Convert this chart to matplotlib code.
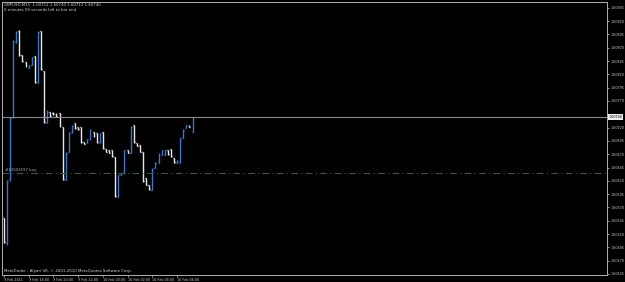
import numpy as np
import matplotlib.pyplot as plt

# GBPUSD M15 bars (open, high, low, close)
opens = [1.60550, 1.60503, 1.60623, 1.60740, 1.60881, 1.60902, 1.60857, 1.60843, 1.60832, 1.60838,
         1.60855, 1.60804, 1.60902, 1.60827, 1.60729, 1.60749, 1.60748, 1.60748, 1.60748, 1.60721,
         1.60622, 1.60674, 1.60712, 1.60729, 1.60721, 1.60721, 1.60693, 1.60691, 1.60697, 1.60712,
         1.60710, 1.60691, 1.60712, 1.60680, 1.60678, 1.60678, 1.60665, 1.60590, 1.60631, 1.60633,
         1.60678, 1.60672, 1.60725, 1.60691, 1.60687, 1.60674, 1.60625, 1.60612, 1.60603, 1.60644,
         1.60654, 1.60669, 1.60669, 1.60678, 1.60680, 1.60663, 1.60654, 1.60654, 1.60701, 1.60719,
         1.60725, 1.60712]
highs = [1.60550, 1.60622, 1.60740, 1.60885, 1.60902, 1.60903, 1.60857, 1.60843, 1.60838, 1.60853,
         1.60855, 1.60902, 1.60902, 1.60827, 1.60753, 1.60749, 1.60749, 1.60748, 1.60748, 1.60721,
         1.60674, 1.60712, 1.60725, 1.60729, 1.60721, 1.60721, 1.60693, 1.60699, 1.60717, 1.60712,
         1.60710, 1.60710, 1.60712, 1.60680, 1.60678, 1.60678, 1.60665, 1.60631, 1.60635, 1.60678,
         1.60678, 1.60723, 1.60725, 1.60691, 1.60687, 1.60674, 1.60625, 1.60612, 1.60644, 1.60655,
         1.60672, 1.60678, 1.60678, 1.60678, 1.60680, 1.60663, 1.60659, 1.60701, 1.60717, 1.60725,
         1.60725, 1.60740]
lows = [1.60503, 1.60499, 1.60620, 1.60738, 1.60879, 1.60855, 1.60843, 1.60834, 1.60832, 1.60838,
        1.60804, 1.60804, 1.60828, 1.60729, 1.60729, 1.60740, 1.60744, 1.60740, 1.60721, 1.60622,
        1.60622, 1.60674, 1.60710, 1.60717, 1.60716, 1.60691, 1.60689, 1.60691, 1.60697, 1.60702,
        1.60691, 1.60691, 1.60680, 1.60674, 1.60672, 1.60665, 1.60590, 1.60590, 1.60631, 1.60633,
        1.60672, 1.60672, 1.60691, 1.60685, 1.60674, 1.60618, 1.60612, 1.60603, 1.60603, 1.60644,
        1.60654, 1.60669, 1.60669, 1.60669, 1.60665, 1.60654, 1.60654, 1.60654, 1.60701, 1.60719,
        1.60721, 1.60712]
closes = [1.60505, 1.60620, 1.60738, 1.60883, 1.60900, 1.60857, 1.60845, 1.60836, 1.60837, 1.60852,
          1.60806, 1.60900, 1.60830, 1.60731, 1.60749, 1.60742, 1.60745, 1.60741, 1.60722, 1.60624,
          1.60672, 1.60710, 1.60723, 1.60719, 1.60717, 1.60693, 1.60690, 1.60698, 1.60716, 1.60703,
          1.60692, 1.60709, 1.60681, 1.60675, 1.60673, 1.60666, 1.60592, 1.60630, 1.60634, 1.60677,
          1.60673, 1.60722, 1.60692, 1.60686, 1.60675, 1.60619, 1.60613, 1.60604, 1.60643, 1.60654,
          1.60671, 1.60677, 1.60677, 1.60670, 1.60666, 1.60655, 1.60658, 1.60700, 1.60716, 1.60724,
          1.60722, 1.60740]

bid = 1.60740
order_price = 1.60635
price_ticks = [1.60945 - 0.00025 * i for i in range(21)]
time_labels = ["9 Feb 2011", "9 Feb 18:00", "9 Feb 20:00", "9 Feb 22:00",
               "10 Feb 00:00", "10 Feb 02:00", "10 Feb 04:00", "10 Feb 06:00"]
time_pos = [0, 8, 16, 24, 32, 40, 48, 56]

fig = plt.figure(figsize=(6.25, 2.82), dpi=100, facecolor='black')
ax = fig.add_axes([2 / 625, 7 / 282, 605 / 625, 273 / 282], facecolor='black')

up_col = '#3f74c4'
dn_col = '#e8e8e8'
x = np.arange(len(opens))
for i in x:
    c = up_col if closes[i] >= opens[i] else dn_col
    ax.vlines(i, lows[i], highs[i], color=c, lw=1.0)
    ax.hlines(opens[i], i - 0.3, i, color=c, lw=1.0)
    ax.hlines(closes[i], i, i + 0.3, color=c, lw=1.0)

ax.axhline(bid, color='#8a8a8a', lw=0.8)
ax.axhline(order_price, color='#3a5a3a', lw=0.8, ls=(0, (6, 3, 1, 3)))

ax.set_xlim(-0.6, 195)
ax.set_ylim(1.60443, 1.60956)

for s in ax.spines.values():
    s.set_color('#b0b0b0')
    s.set_linewidth(0.7)

# the tick label under the bid box is hidden, as in the terminal
ylabels = ['' if abs(v - bid) < 0.0001 else '%.5f' % v for v in price_ticks]
ax.yaxis.tick_right()
ax.set_yticks(price_ticks)
ax.set_yticklabels(ylabels)
ax.set_xticks(time_pos)
ax.set_xticklabels(time_labels, ha='left')
ax.tick_params(axis='both', colors='#c8c8c8', labelsize=2.4, length=1.5, width=0.5, pad=0.8)

# current price box on the right scale
ax.text(1.003, bid, '%.5f' % bid, transform=ax.get_yaxis_transform(), fontsize=2.4,
        color='black', va='center', ha='left',
        bbox=dict(boxstyle='square,pad=0.2', fc='#f0f0f0', ec='none'))

ax.text(0.004, 0.995, "GBPUSD,M15  %.5f %.5f %.5f %.5f" % (opens[-1], highs[-1], lows[-1], closes[-1]),
        transform=ax.transAxes, fontsize=2.8, color='#d0d0d0', va='top', ha='left')
ax.text(0.004, 0.977, "0 minutes 59 seconds left to bar end",
        transform=ax.transAxes, fontsize=2.8, color='#d0d0d0', va='top', ha='left')
ax.text(0.5, order_price + 0.00002, "#12603597 buy", fontsize=2.8, color='#b0b0b0',
        va='bottom', ha='left')
ax.text(0.004, 0.008, "MetaTrader - Alpari UK, \u00a9 2001-2010 MetaQuotes Software Corp.",
        transform=ax.transAxes, fontsize=2.8, color='#d0d0d0', va='bottom', ha='left')

fig.savefig('out.png', dpi=100, facecolor='black')
